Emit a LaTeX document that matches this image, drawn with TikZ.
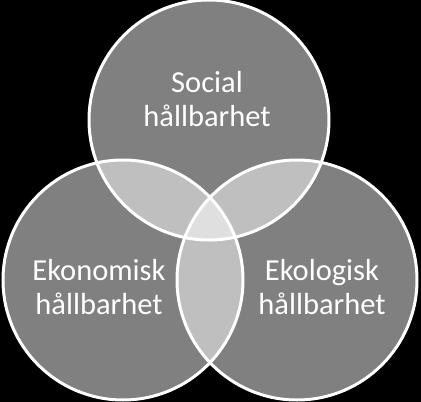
\documentclass[tikz,border=0pt]{standalone}
\usepackage{fontspec}
\setmainfont{Carlito}
\begin{document}
\begin{tikzpicture}[x=1pt,y=-1pt]
      \tikzset{venn/.style={circle,draw=white,line width=3pt,fill=white,fill opacity=0.5,minimum size=240pt,inner sep=0pt},
        lbl/.style={text=white,align=center,font=\fontsize{30.5}{34}\selectfont}}
      \fill[black] (0,0) rectangle (421,402);
      \useasboundingbox (0,0) rectangle (421,402);
      \node[venn] (soc) at (209,120) {};
      \node[venn] (eko) at (123,280) {};
      \node[venn] (ekl) at (297,280) {};
      \node[lbl] (tsoc) at (207,99)  {Social\\hållbarhet};
      \node[lbl] (teko) at (99,287)  {Ekonomisk\\hållbarhet};
      \node[lbl] (tekl) at (322,287) {Ekologisk\\hållbarhet};
    \end{tikzpicture}
\end{document}
